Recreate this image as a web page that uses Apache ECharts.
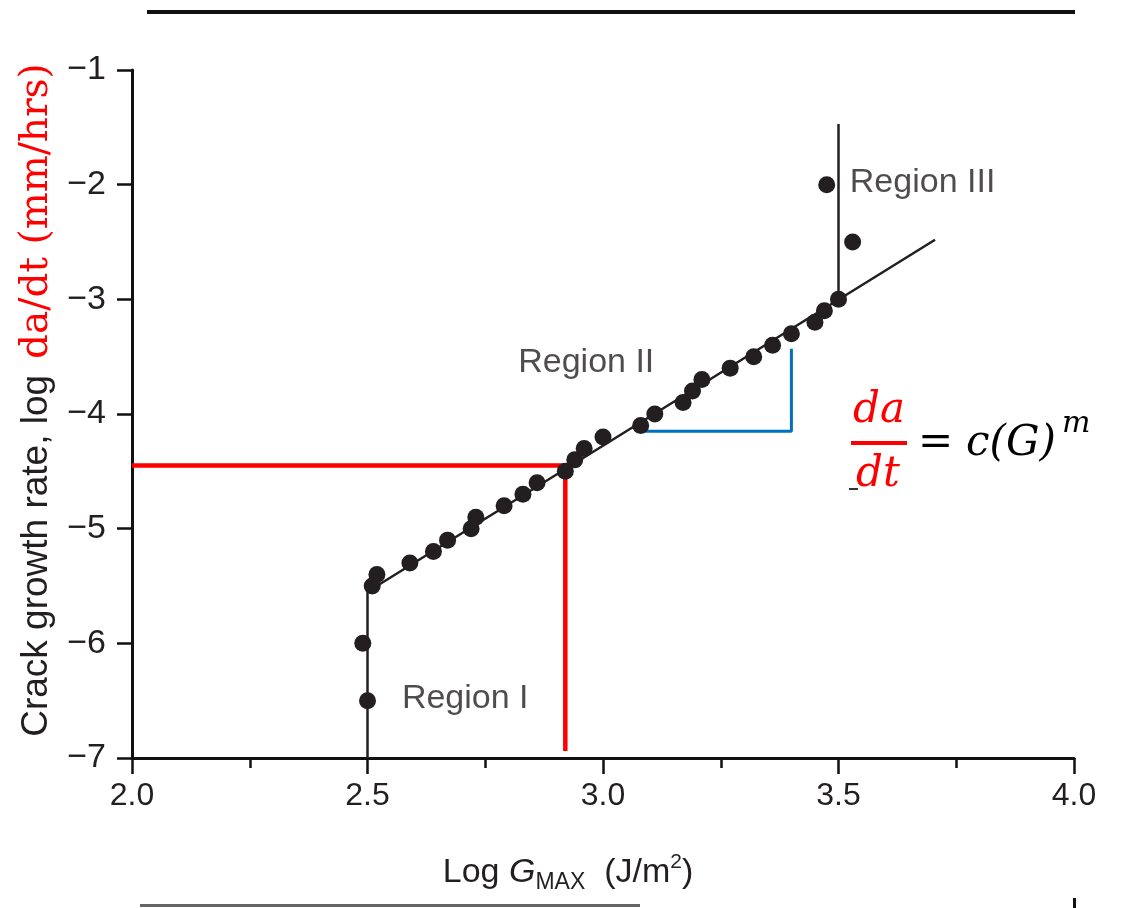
<!DOCTYPE html>
<html><head><meta charset="utf-8">
<script src="https://cdn.jsdelivr.net/npm/echarts@6/dist/echarts.min.js"></script>
<style>html,body{margin:0;padding:0;background:#fff}#c{width:1122px;height:908px}</style>
</head><body><div id="c"></div>
<script>
// measured points: log G_MAX vs log crack growth rate
const logG    = [2.49, 2.50, 2.51, 2.52, 2.59, 2.64, 2.67, 2.72, 2.73, 2.79, 2.83, 2.86, 2.92, 2.94, 2.96, 3.00, 3.08, 3.11, 3.17, 3.19, 3.21, 3.27, 3.32, 3.36, 3.40, 3.45, 3.47, 3.50, 3.475, 3.53];
const logRate = [-6.0, -6.5, -5.5, -5.4, -5.3, -5.2, -5.1, -5.0, -4.9, -4.8, -4.7, -4.6, -4.5, -4.4, -4.3, -4.2, -4.1, -4.0, -3.9, -3.8, -3.7, -3.6, -3.5, -3.4, -3.3, -3.2, -3.1, -3.0, -2.0, -2.5];
// fitted lines
const fitX = [2.5, 2.5, 3.705];
const fitY = [-7.0, -5.55, -2.48];
const region3X = [3.5, 3.5];
const region3Y = [-3.0, -1.47];
// highlight guides
const redX = [2.0, 2.92, 2.92];
const redY = [-4.45, -4.45, -6.94];
const blueX = [3.07, 3.40, 3.40];
const blueY = [-4.15, -4.15, -3.43];
// region labels
const regionNames = ['Region I', 'Region II', 'Region III'];
const regionX = [2.573, 2.82, 3.524];
const regionY = [-6.48, -3.55, -1.985];
// ticks
const xTickValues = [2.0, 2.5, 3.0, 3.5, 4.0];
const xTickLabels = ['2.0', '2.5', '3.0', '3.5', '4.0'];
const yTickValues = [-7, -6, -5, -4, -3, -2, -1];
const yTickLabels = ['\u22127', '\u22126', '\u22125', '\u22124', '\u22123', '\u22122', '\u22121'];

const zip = (a, b) => a.map((v, i) => [v, b[i]]);
const INK = '#231f20';
const SANS = '"Liberation Sans", Arial, Helvetica, sans-serif';
const SERIF = '"DejaVu Serif", "Liberation Serif", serif';
const MATH = 'italic 42px "DejaVu Serif", serif';

const chart = echarts.init(document.getElementById('c'), null, {renderer: 'canvas'});
chart.setOption({
  backgroundColor: '#ffffff',
  animation: false,
  grid: {left: 132, right: 48, top: 70, bottom: 150, containLabel: false, outerBoundsMode: 'none'},
  xAxis: {
    type: 'value', min: 2, max: 4, interval: 0.5,
    axisLine: {show: true, onZero: false, lineStyle: {color: '#111', width: 3}},
    axisTick: {show: true, inside: false, length: 16, lineStyle: {color: '#111', width: 2.5}},
    minorTick: {show: true, splitNumber: 2, length: 10, lineStyle: {color: '#111', width: 2.5}},
    splitLine: {show: false},
    axisLabel: {
      margin: 22, color: INK, fontFamily: SANS, fontSize: 32,
      formatter: v => { const i = xTickValues.findIndex(t => Math.abs(t - v) < 1e-6); return i >= 0 ? xTickLabels[i] : ''; }
    },
    name: '{a|Log }{g|G}{s|MAX}{e|  (J/m}{p|2}{z|)}',
    nameLocation: 'middle', nameGap: 94,
    nameTextStyle: {
      rich: {
        a: {fontFamily: SANS, fontSize: 34, color: INK, lineHeight: 42, verticalAlign: 'middle'},
        e: {fontFamily: SANS, fontSize: 34, color: INK, lineHeight: 42, verticalAlign: 'middle'},
        z: {fontFamily: SANS, fontSize: 34, color: INK, lineHeight: 42, verticalAlign: 'middle', padding: [0, 70, 0, 0]},
        g: {fontFamily: SANS, fontSize: 34, color: INK, fontStyle: 'italic', lineHeight: 42, verticalAlign: 'middle'},
        s: {fontFamily: SANS, fontSize: 23, color: INK, lineHeight: 23, verticalAlign: 'bottom'},
        p: {fontFamily: SANS, fontSize: 21, color: INK, lineHeight: 21, verticalAlign: 'top'}
      }
    }
  },
  yAxis: {
    type: 'value', min: -7, max: -1, interval: 1,
    axisLine: {show: true, onZero: false, lineStyle: {color: '#111', width: 3}},
    axisTick: {show: true, inside: false, length: 15, lineStyle: {color: '#111', width: 2.5}},
    splitLine: {show: false},
    axisLabel: {
      margin: 26, color: INK, fontFamily: SANS, fontSize: 34,
      formatter: v => { const i = yTickValues.findIndex(t => Math.abs(t - v) < 1e-6); return i >= 0 ? yTickLabels[i] : ''; }
    },
    name: '{a|Crack growth rate, log}{b|da/dt (mm/hrs)}',
    nameLocation: 'middle', nameGap: 68, nameRotate: 90,
    nameTextStyle: {
      rich: {
        a: {fontFamily: SANS, fontSize: 37, color: INK, lineHeight: 42, padding: [0, 0, 0, 28]},
        b: {fontFamily: SERIF, fontSize: 39, color: '#ff0000', lineHeight: 42, padding: [0, 0, 0, 16]}
      }
    }
  },
  series: [
    {type: 'line', name: 'red guide', data: zip(redX, redY), symbol: 'none', z: 1,
     lineStyle: {color: '#ff0000', width: 4.5}},
    {type: 'line', name: 'blue slope', data: zip(blueX, blueY), symbol: 'none', z: 1,
     lineStyle: {color: '#0070c0', width: 3}},
    {type: 'line', name: 'fit', data: zip(fitX, fitY), symbol: 'none', z: 2,
     lineStyle: {color: INK, width: 2.5}},
    {type: 'line', name: 'region III', data: zip(region3X, region3Y), symbol: 'none', z: 2,
     lineStyle: {color: INK, width: 2.5}},
    {type: 'scatter', name: 'data', data: zip(logG, logRate), symbol: 'circle', symbolSize: 17, z: 3,
     itemStyle: {color: INK, opacity: 1}},
    {type: 'scatter', name: 'labels', symbolSize: 0, z: 4, silent: true,
     data: regionNames.map((n, i) => ({name: n, value: [regionX[i], regionY[i]]})),
     label: {show: true, position: 'right', distance: 0, formatter: p => p.name,
             fontFamily: SANS, fontSize: 34, color: INK}}
  ],
  graphic: [
    {type: 'rect', shape: {x: 147, y: 10, width: 928, height: 4}, style: {fill: '#111'}},
    {type: 'rect', shape: {x: 140, y: 904, width: 500, height: 3}, style: {fill: '#666'}},
    {type: 'rect', shape: {x: 1073, y: 898, width: 3, height: 10}, style: {fill: '#111'}},
    // formula  da/dt = c(G)^m
    {type: 'text', x: 879, y: 411, style: {text: 'da', font: MATH, fill: '#ff0000', align: 'center', verticalAlign: 'middle'}},
    {type: 'rect', shape: {x: 851, y: 441, width: 56, height: 4}, style: {fill: '#ff0000'}},
    {type: 'text', x: 878, y: 475, style: {text: 'dt', font: MATH, fill: '#ff0000', align: 'center', verticalAlign: 'middle'}},
    {type: 'rect', shape: {x: 849, y: 488, width: 9, height: 2}, style: {fill: '#333'}},
    {type: 'text', x: 918, y: 444, style: {text: '=', font: '42px "DejaVu Serif", serif', fill: '#000', align: 'left', verticalAlign: 'middle'}},
    {type: 'text', x: 966, y: 444, style: {text: 'c(G)', font: MATH, fill: '#000', align: 'left', verticalAlign: 'middle'}},
    {type: 'text', x: 1062, y: 424, style: {text: 'm', font: 'italic 30px "DejaVu Serif", serif', fill: '#000', align: 'left', verticalAlign: 'middle'}}
  ]
});
</script></body></html>
